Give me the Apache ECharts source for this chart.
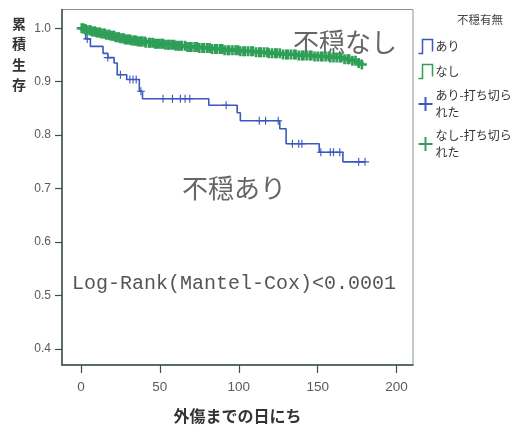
<!DOCTYPE html>
<html>
<head>
<meta charset="utf-8">
<script src="https://cdn.jsdelivr.net/npm/echarts@6/dist/echarts.min.js"></script>
<style>
  html, body { margin: 0; padding: 0; background: #fff; }
  #chart { width: 530px; height: 429px; }
</style>
</head>
<body>
<div id="chart"></div>
<script>
// 不穏あり: 生存曲線の段 [日数, 累積生存]
const blueSteps = [
  [0, 1.0], [3, 0.980], [6, 0.966], [14, 0.953], [17, 0.945], [21, 0.935],
  [23, 0.913], [29, 0.904], [37, 0.882], [39, 0.868], [81, 0.856], [99, 0.842],
  [101, 0.827], [126, 0.812], [130, 0.784], [151, 0.768], [166, 0.750], [180, 0.750]
]
// 不穏あり: 打ち切り日
const blueCensor = [4, 17, 25, 31, 33, 35, 38, 52, 58, 63, 66, 69, 92, 113, 117, 125,
  134, 138, 140, 152, 158, 160, 164, 176, 180]

// 不穏なし: 生存曲線の段
const greenSteps = [
  [0, 1.0], [2, 0.998], [4, 0.996], [7, 0.994], [10, 0.992], [13, 0.990], [16, 0.988],
  [19, 0.986], [22, 0.983], [25, 0.981], [28, 0.979], [32, 0.977], [36, 0.975],
  [41, 0.973], [47, 0.971], [53, 0.969], [60, 0.967], [67, 0.965], [75, 0.963],
  [83, 0.961], [91, 0.959], [100, 0.957], [110, 0.955], [119, 0.953], [127, 0.951],
  [137, 0.949], [148, 0.947], [158, 0.945], [166, 0.942], [171, 0.939], [175, 0.935],
  [177, 0.932], [178.5, 0.932]
]
// 不穏なし: 打ち切り日
const greenCensor = [0.5, 1.5, 2.5, 3, 4, 5.5, 6, 7, 8.5, 9, 10, 11.5, 12, 13, 14.5, 15, 16,
  17.5, 18, 19, 20.5, 21, 22, 23.5, 24, 25, 26.5, 27, 28, 29, 30.5, 31, 32, 33.5, 34, 35, 36,
  37.5, 38, 39, 40.5, 41, 43, 44, 45.5, 47, 48, 49.5, 51, 52, 53.5, 55, 56, 57.5, 59, 60, 61.5,
  63, 64, 66, 67.5, 69, 70, 72, 73.5, 75, 77, 78, 80, 81.5, 83, 85, 86, 88, 89.5, 91, 93, 94,
  96, 98, 99.5, 101, 103, 104, 106, 108, 109, 111, 113, 114, 116, 118, 119, 121, 123, 124, 126,
  128, 130, 131, 133, 135, 136, 138, 140, 141, 143, 145, 146, 148, 150, 152, 153, 155, 157, 158,
  160, 162, 164, 165, 167, 169, 170, 172, 174, 176, 178]

const xTicks = [0, 50, 100, 150, 200]
const yTicks = [0.4, 0.5, 0.6, 0.7, 0.8, 0.9, 1.0]

const BLUE = '#3a58bd'
const GREEN = '#2f9f58'
const TEXT_GRAY = '#5a5a5a'
const JP = '"Noto Sans CJK JP", sans-serif'
const NARROW = '"Liberation Sans Narrow", "Liberation Sans", sans-serif'

// 打ち切り点は曲線上に置く
const survivalAt = (steps, t) => {
  let s = steps[0][1]
  for (const [st, sv] of steps) {
    if (st <= t) s = sv
  }
  return s
}

const crossThin = 'path://M0,4.3 L10,4.3 L10,5.7 L0,5.7 Z M4.3,0 L5.7,0 L5.7,10 L4.3,10 Z'
const crossBold = 'path://M0,3.7 L10,3.7 L10,6.3 L0,6.3 Z M3.7,0 L6.3,0 L6.3,10 L3.7,10 Z'
const stepIcon = 'path://M0,15 L4,15 L4,1 L14,1 L14,13'

const chart = echarts.init(document.getElementById('chart'))

const option = {
  animation: false,
  grid: {
    left: 62, top: 9.5, width: 351, height: 359,
    show: true, borderColor: '#8a9292', borderWidth: 1
  },
  xAxis: {
    type: 'value', min: -12, max: 210.4,
    axisLine: { show: true, onZero: false, lineStyle: { color: '#3f4c4c', width: 1.5 } },
    axisTick: { show: true, length: 8, customValues: xTicks, lineStyle: { color: '#3f4c4c', width: 1.2 } },
    axisLabel: { customValues: xTicks, margin: 15, fontSize: 13.5, fontFamily: NARROW, color: TEXT_GRAY },
    splitLine: { show: false },
    name: '外傷までの日にち',
    nameLocation: 'middle',
    nameGap: 43,
    nameTextStyle: { fontSize: 16, fontWeight: 'bold', fontFamily: JP, color: '#333' }
  },
  yAxis: {
    type: 'value', min: 0.370, max: 1.035,
    axisLine: { show: true, onZero: false, lineStyle: { color: '#3f4c4c', width: 1.5 } },
    axisTick: { show: true, length: 7, customValues: yTicks, lineStyle: { color: '#3f4c4c', width: 1.2 } },
    axisLabel: {
      customValues: yTicks, margin: 11, fontSize: 12, fontFamily: NARROW, color: TEXT_GRAY,
      formatter: v => v.toFixed(1)
    },
    splitLine: { show: false }
  },
  legend: {
    orient: 'vertical',
    left: 411, top: 32,
    itemWidth: 14, itemHeight: 16, itemGap: 6,
    textStyle: { fontSize: 12, fontFamily: JP, color: '#333', lineHeight: 17, padding: [0, 0, 0, -2] },
    formatter: name => name.replace('打ち切られた', '打ち切ら\nれた'),
    data: [
      { name: 'あり', icon: stepIcon, itemStyle: { color: 'none', borderColor: BLUE, borderWidth: 1.5 } },
      { name: 'なし', icon: stepIcon, itemStyle: { color: 'none', borderColor: GREEN, borderWidth: 1.5 } },
      { name: 'あり-打ち切られた', icon: crossThin, itemStyle: { color: BLUE, borderWidth: 0 } },
      { name: 'なし-打ち切られた', icon: crossThin, itemStyle: { color: GREEN, borderWidth: 0 } }
    ]
  },
  graphic: [
    {
      type: 'text', left: 12, top: 13,
      style: { text: '累\n積\n生\n存', fontSize: 14, fontWeight: 'bold', fontFamily: JP, fill: '#333', lineHeight: 20.5 }
    },
    {
      type: 'text', x: 293, y: 42,
      style: { text: '不穏なし', fontSize: 26, fontFamily: JP, fill: '#666', verticalAlign: 'middle' }
    },
    {
      type: 'text', x: 182, y: 188,
      style: { text: '不穏あり', fontSize: 26, fontFamily: JP, fill: '#666', verticalAlign: 'middle' }
    },
    {
      type: 'text', x: 72, y: 284,
      style: { text: 'Log-Rank(Mantel-Cox)<0.0001', fontSize: 20, fontFamily: '"Liberation Mono", monospace', fill: '#555', verticalAlign: 'middle' }
    },
    {
      type: 'text', x: 480, y: 20,
      style: { text: '不穏有無', fontSize: 11.5, fontFamily: JP, fill: '#444', align: 'center', verticalAlign: 'middle' }
    }
  ],
  series: [
    {
      name: 'あり', type: 'line', step: 'end', symbol: 'none', z: 2,
      data: blueSteps,
      lineStyle: { color: BLUE, width: 1.6 },
      itemStyle: { color: BLUE }
    },
    {
      name: 'あり-打ち切られた', type: 'scatter', z: 3,
      symbol: crossThin, symbolSize: 8,
      data: blueCensor.map(t => [t, survivalAt(blueSteps, t)]),
      itemStyle: { color: BLUE, opacity: 1 }
    },
    {
      name: 'なし', type: 'line', step: 'end', symbol: 'none', z: 4,
      data: greenSteps,
      lineStyle: { color: GREEN, width: 3 },
      itemStyle: { color: GREEN }
    },
    {
      name: 'なし-打ち切られた', type: 'scatter', z: 5,
      symbol: crossBold, symbolSize: 10,
      data: greenCensor.map(t => [t, survivalAt(greenSteps, t)]),
      itemStyle: { color: GREEN, opacity: 1 }
    }
  ]
}

chart.setOption(option)
</script>
</body>
</html>
